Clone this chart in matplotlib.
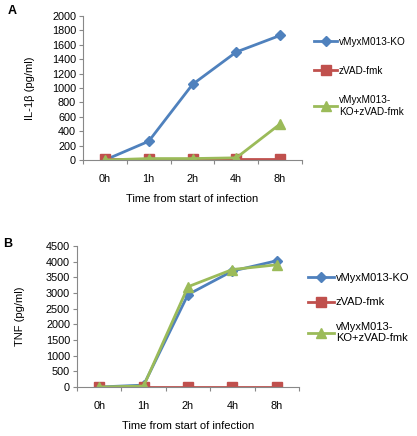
import matplotlib
matplotlib.use("Agg")
import matplotlib.pyplot as plt
from matplotlib.ticker import FixedLocator, NullFormatter

plt.rcParams['font.family'] = ['Liberation Sans', 'DejaVu Sans']

categories = ["0h", "1h", "2h", "4h", "8h"]
series_names = ["vMyxM013-KO", "zVAD-fmk", "vMyxM013-\nKO+zVAD-fmk"]

il1b_ko = [0, 260, 1050, 1500, 1730]
il1b_zvad = [10, 10, 10, 10, 10]
il1b_combo = [0, 20, 20, 30, 500]

tnf_ko = [0, 60, 2950, 3700, 4030]
tnf_zvad = [0, 0, 0, 0, 0]
tnf_combo = [0, 30, 3200, 3750, 3900]

colors = ["#4F81BD", "#C0504D", "#9BBB59"]
markers = ["D", "s", "^"]
msizes = [5.5, 7, 7]

W, H = 417, 436
fig = plt.figure(figsize=(W / 100, H / 100), dpi=100)


def make_panel(rect, data, ylim, yticks, ylabel, ylabel_x, legend_xy, labelspacing,
               legend_fs, letter, letter_xy):
    ax = fig.add_axes(rect)
    x = list(range(len(categories)))
    for vals, c, m, ms, name in zip(data, colors, markers, msizes, series_names):
        ax.plot(x, vals, color=c, marker=m, markersize=ms, linewidth=2, label=name)
    ax.set_xlim(-0.5, len(categories) - 0.5)
    ax.set_ylim(*ylim)
    ax.set_yticks(yticks)
    ax.set_xticks(x)
    ax.set_xticklabels(categories)
    ax.xaxis.set_minor_locator(FixedLocator([i - 0.5 for i in range(len(categories) + 1)]))
    ax.xaxis.set_minor_formatter(NullFormatter())
    ax.tick_params(axis='x', which='major', length=0, pad=10, labelsize=7.8)
    ax.tick_params(axis='x', which='minor', length=3, color='#888888', width=0.8)
    ax.tick_params(axis='y', length=3, color='#888888', width=0.8, labelsize=7.8, pad=2)
    for s in ['top', 'right']:
        ax.spines[s].set_visible(False)
    for s in ['left', 'bottom']:
        ax.spines[s].set_color('#888888')
        ax.spines[s].set_linewidth(0.8)
    ax.set_ylabel(ylabel, fontsize=8)
    ax.yaxis.set_label_coords(ylabel_x, 0.5)
    ax.set_xlabel("Time from start of infection", fontsize=8, labelpad=7)
    ax.legend(loc='upper left', bbox_to_anchor=legend_xy, bbox_transform=fig.transFigure,
              frameon=False, fontsize=legend_fs, handlelength=2.3, handletextpad=0.2,
              labelspacing=labelspacing, borderaxespad=0, borderpad=0)
    fig.text(letter_xy[0], letter_xy[1], letter, fontsize=9, fontweight='bold',
             ha='left', va='top')
    ax.patch.set_alpha(0)
    return ax


make_panel([83 / W, 1 - 160 / H, 219 / W, 144 / H],
           [il1b_ko, il1b_zvad, il1b_combo], (0, 2000), range(0, 2001, 200),
           "IL-1β (pg/ml)", -0.22, (314 / W, 1 - 37 / H), 1.9, 7.2, "A", (8 / W, 1 - 5 / H))

make_panel([77 / W, 1 - 387 / H, 222 / W, 141 / H],
           [tnf_ko, tnf_zvad, tnf_combo], (0, 4500), range(0, 4501, 500),
           "TNF (pg/ml)", -0.235, (308 / W, 1 - 273 / H), 1.3, 8, "B", (3 / W, 1 - 238 / H))

fig.savefig("out.png", dpi=100)
